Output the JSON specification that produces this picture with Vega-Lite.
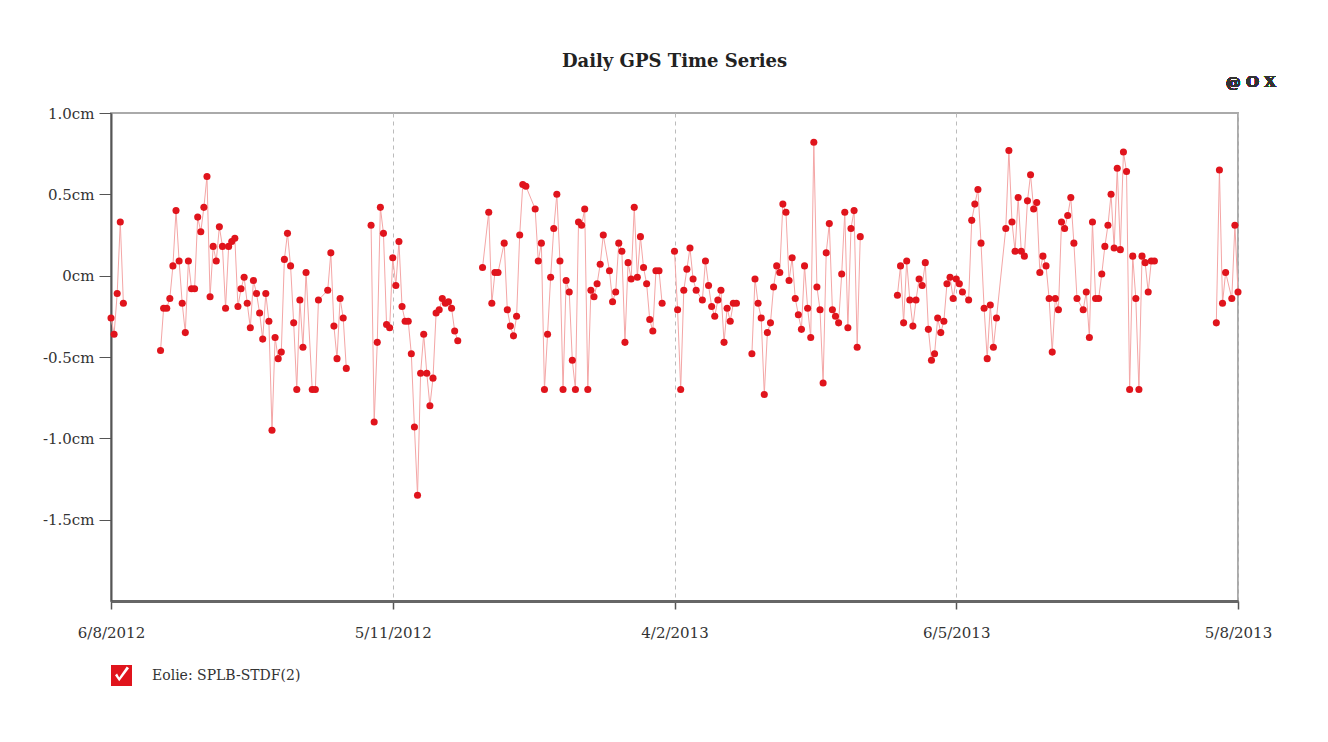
{
"$schema": "https://vega.github.io/schema/vega-lite/v6.json",
"width": 1127, "height": 488,
"autosize": "none",
"padding": {"left": 111, "top": 113, "right": 90, "bottom": 141},
"background": "white",
"config": {"font": "DejaVu Serif", "view": {"stroke": "#aaa", "strokeWidth": 2}},
"title": {"text": "Daily GPS Time Series", "font": "DejaVu Serif", "fontSize": 18, "fontWeight": "bold", "color": "#222", "anchor": "middle", "frame": "group", "offset": 4},
"data": {"values": [
{"d":"2012-08-06","v":-0.26,"g":1},{"d":"2012-08-07","v":-0.36,"g":1},{"d":"2012-08-08","v":-0.11,"g":1},{"d":"2012-08-09","v":0.33,"g":1},{"d":"2012-08-10","v":-0.17,"g":1},
{"d":"2012-08-22","v":-0.46,"g":2},{"d":"2012-08-23","v":-0.2,"g":2},{"d":"2012-08-24","v":-0.2,"g":2},{"d":"2012-08-25","v":-0.14,"g":2},{"d":"2012-08-26","v":0.06,"g":2},{"d":"2012-08-27","v":0.4,"g":2},{"d":"2012-08-28","v":0.09,"g":2},{"d":"2012-08-29","v":-0.17,"g":2},{"d":"2012-08-30","v":-0.35,"g":2},{"d":"2012-08-31","v":0.09,"g":2},
{"d":"2012-09-01","v":-0.08,"g":2},{"d":"2012-09-02","v":-0.08,"g":2},{"d":"2012-09-03","v":0.36,"g":2},{"d":"2012-09-04","v":0.27,"g":2},{"d":"2012-09-05","v":0.42,"g":2},{"d":"2012-09-06","v":0.61,"g":2},{"d":"2012-09-07","v":-0.13,"g":2},{"d":"2012-09-08","v":0.18,"g":2},{"d":"2012-09-09","v":0.09,"g":2},{"d":"2012-09-10","v":0.3,"g":2},{"d":"2012-09-11","v":0.18,"g":2},{"d":"2012-09-12","v":-0.2,"g":2},{"d":"2012-09-13","v":0.18,"g":2},{"d":"2012-09-14","v":0.21,"g":2},{"d":"2012-09-15","v":0.23,"g":2},{"d":"2012-09-16","v":-0.19,"g":2},{"d":"2012-09-17","v":-0.08,"g":2},{"d":"2012-09-18","v":-0.01,"g":2},{"d":"2012-09-19","v":-0.17,"g":2},{"d":"2012-09-20","v":-0.32,"g":2},{"d":"2012-09-21","v":-0.03,"g":2},{"d":"2012-09-22","v":-0.11,"g":2},{"d":"2012-09-23","v":-0.23,"g":2},{"d":"2012-09-24","v":-0.39,"g":2},{"d":"2012-09-25","v":-0.11,"g":2},{"d":"2012-09-26","v":-0.28,"g":2},{"d":"2012-09-27","v":-0.95,"g":2},{"d":"2012-09-28","v":-0.38,"g":2},{"d":"2012-09-29","v":-0.51,"g":2},{"d":"2012-09-30","v":-0.47,"g":2},
{"d":"2012-10-01","v":0.1,"g":2},{"d":"2012-10-02","v":0.26,"g":2},{"d":"2012-10-03","v":0.06,"g":2},{"d":"2012-10-04","v":-0.29,"g":2},{"d":"2012-10-05","v":-0.7,"g":2},{"d":"2012-10-06","v":-0.15,"g":2},{"d":"2012-10-07","v":-0.44,"g":2},{"d":"2012-10-08","v":0.02,"g":2},{"d":"2012-10-10","v":-0.7,"g":2},{"d":"2012-10-11","v":-0.7,"g":2},{"d":"2012-10-12","v":-0.15,"g":2},{"d":"2012-10-15","v":-0.09,"g":2},{"d":"2012-10-16","v":0.14,"g":2},{"d":"2012-10-17","v":-0.31,"g":2},{"d":"2012-10-18","v":-0.51,"g":2},{"d":"2012-10-19","v":-0.14,"g":2},{"d":"2012-10-20","v":-0.26,"g":2},{"d":"2012-10-21","v":-0.57,"g":2},
{"d":"2012-10-29","v":0.31,"g":3},{"d":"2012-10-30","v":-0.9,"g":3},{"d":"2012-10-31","v":-0.41,"g":3},{"d":"2012-11-01","v":0.42,"g":3},{"d":"2012-11-02","v":0.26,"g":3},{"d":"2012-11-03","v":-0.3,"g":3},{"d":"2012-11-04","v":-0.32,"g":3},{"d":"2012-11-05","v":0.11,"g":3},{"d":"2012-11-06","v":-0.06,"g":3},{"d":"2012-11-07","v":0.21,"g":3},{"d":"2012-11-08","v":-0.19,"g":3},{"d":"2012-11-09","v":-0.28,"g":3},{"d":"2012-11-10","v":-0.28,"g":3},{"d":"2012-11-11","v":-0.48,"g":3},{"d":"2012-11-12","v":-0.93,"g":3},{"d":"2012-11-13","v":-1.35,"g":3},{"d":"2012-11-14","v":-0.6,"g":3},{"d":"2012-11-15","v":-0.36,"g":3},{"d":"2012-11-16","v":-0.6,"g":3},{"d":"2012-11-17","v":-0.8,"g":3},{"d":"2012-11-18","v":-0.63,"g":3},{"d":"2012-11-19","v":-0.23,"g":3},{"d":"2012-11-20","v":-0.21,"g":3},{"d":"2012-11-21","v":-0.14,"g":3},{"d":"2012-11-22","v":-0.17,"g":3},{"d":"2012-11-23","v":-0.16,"g":3},{"d":"2012-11-24","v":-0.2,"g":3},{"d":"2012-11-25","v":-0.34,"g":3},{"d":"2012-11-26","v":-0.4,"g":3},
{"d":"2012-12-04","v":0.05,"g":4},{"d":"2012-12-06","v":0.39,"g":4},{"d":"2012-12-07","v":-0.17,"g":4},{"d":"2012-12-08","v":0.02,"g":4},{"d":"2012-12-09","v":0.02,"g":4},{"d":"2012-12-11","v":0.2,"g":4},{"d":"2012-12-12","v":-0.21,"g":4},{"d":"2012-12-13","v":-0.31,"g":4},{"d":"2012-12-14","v":-0.37,"g":4},{"d":"2012-12-15","v":-0.25,"g":4},{"d":"2012-12-16","v":0.25,"g":4},{"d":"2012-12-17","v":0.56,"g":4},{"d":"2012-12-18","v":0.55,"g":4},{"d":"2012-12-21","v":0.41,"g":4},{"d":"2012-12-22","v":0.09,"g":4},{"d":"2012-12-23","v":0.2,"g":4},{"d":"2012-12-24","v":-0.7,"g":4},{"d":"2012-12-25","v":-0.36,"g":4},{"d":"2012-12-26","v":-0.01,"g":4},{"d":"2012-12-27","v":0.29,"g":4},{"d":"2012-12-28","v":0.5,"g":4},{"d":"2012-12-29","v":0.09,"g":4},{"d":"2012-12-30","v":-0.7,"g":4},{"d":"2012-12-31","v":-0.03,"g":4},
{"d":"2013-01-01","v":-0.1,"g":4},{"d":"2013-01-02","v":-0.52,"g":4},{"d":"2013-01-03","v":-0.7,"g":4},{"d":"2013-01-04","v":0.33,"g":4},{"d":"2013-01-05","v":0.31,"g":4},{"d":"2013-01-06","v":0.41,"g":4},{"d":"2013-01-07","v":-0.7,"g":4},{"d":"2013-01-08","v":-0.09,"g":4},{"d":"2013-01-09","v":-0.13,"g":4},{"d":"2013-01-10","v":-0.05,"g":4},{"d":"2013-01-11","v":0.07,"g":4},{"d":"2013-01-12","v":0.25,"g":4},{"d":"2013-01-14","v":0.03,"g":4},{"d":"2013-01-15","v":-0.16,"g":4},{"d":"2013-01-16","v":-0.1,"g":4},{"d":"2013-01-17","v":0.2,"g":4},{"d":"2013-01-18","v":0.15,"g":4},{"d":"2013-01-19","v":-0.41,"g":4},{"d":"2013-01-20","v":0.08,"g":4},{"d":"2013-01-21","v":-0.02,"g":4},{"d":"2013-01-22","v":0.42,"g":4},{"d":"2013-01-23","v":-0.01,"g":4},{"d":"2013-01-24","v":0.24,"g":4},{"d":"2013-01-25","v":0.05,"g":4},{"d":"2013-01-26","v":-0.05,"g":4},{"d":"2013-01-27","v":-0.27,"g":4},{"d":"2013-01-28","v":-0.34,"g":4},{"d":"2013-01-29","v":0.03,"g":4},{"d":"2013-01-30","v":0.03,"g":4},{"d":"2013-01-31","v":-0.17,"g":4},
{"d":"2013-02-04","v":0.15,"g":5},{"d":"2013-02-05","v":-0.21,"g":5},{"d":"2013-02-06","v":-0.7,"g":5},{"d":"2013-02-07","v":-0.09,"g":5},{"d":"2013-02-08","v":0.04,"g":5},{"d":"2013-02-09","v":0.17,"g":5},{"d":"2013-02-10","v":-0.02,"g":5},{"d":"2013-02-11","v":-0.09,"g":5},{"d":"2013-02-13","v":-0.15,"g":5},{"d":"2013-02-14","v":0.09,"g":5},{"d":"2013-02-15","v":-0.06,"g":5},{"d":"2013-02-16","v":-0.19,"g":5},{"d":"2013-02-17","v":-0.25,"g":5},{"d":"2013-02-18","v":-0.15,"g":5},{"d":"2013-02-19","v":-0.09,"g":5},{"d":"2013-02-20","v":-0.41,"g":5},{"d":"2013-02-21","v":-0.2,"g":5},{"d":"2013-02-22","v":-0.28,"g":5},{"d":"2013-02-23","v":-0.17,"g":5},{"d":"2013-02-24","v":-0.17,"g":5},
{"d":"2013-03-01","v":-0.48,"g":6},{"d":"2013-03-02","v":-0.02,"g":6},{"d":"2013-03-03","v":-0.17,"g":6},{"d":"2013-03-04","v":-0.26,"g":6},{"d":"2013-03-05","v":-0.73,"g":6},{"d":"2013-03-06","v":-0.35,"g":6},{"d":"2013-03-07","v":-0.29,"g":6},{"d":"2013-03-08","v":-0.07,"g":6},{"d":"2013-03-09","v":0.06,"g":6},{"d":"2013-03-10","v":0.02,"g":6},{"d":"2013-03-11","v":0.44,"g":6},{"d":"2013-03-12","v":0.39,"g":6},{"d":"2013-03-13","v":-0.03,"g":6},{"d":"2013-03-14","v":0.11,"g":6},{"d":"2013-03-15","v":-0.14,"g":6},{"d":"2013-03-16","v":-0.24,"g":6},{"d":"2013-03-17","v":-0.33,"g":6},{"d":"2013-03-18","v":0.06,"g":6},{"d":"2013-03-19","v":-0.2,"g":6},{"d":"2013-03-20","v":-0.38,"g":6},{"d":"2013-03-21","v":0.82,"g":6},{"d":"2013-03-22","v":-0.07,"g":6},{"d":"2013-03-23","v":-0.21,"g":6},{"d":"2013-03-24","v":-0.66,"g":6},{"d":"2013-03-25","v":0.14,"g":6},{"d":"2013-03-26","v":0.32,"g":6},{"d":"2013-03-27","v":-0.21,"g":6},{"d":"2013-03-28","v":-0.25,"g":6},{"d":"2013-03-29","v":-0.29,"g":6},{"d":"2013-03-30","v":0.01,"g":6},{"d":"2013-03-31","v":0.39,"g":6},{"d":"2013-04-01","v":-0.32,"g":6},{"d":"2013-04-02","v":0.29,"g":6},{"d":"2013-04-03","v":0.4,"g":6},{"d":"2013-04-04","v":-0.44,"g":6},{"d":"2013-04-05","v":0.24,"g":6},
{"d":"2013-04-17","v":-0.12,"g":7},{"d":"2013-04-18","v":0.06,"g":7},{"d":"2013-04-19","v":-0.29,"g":7},{"d":"2013-04-20","v":0.09,"g":7},{"d":"2013-04-21","v":-0.15,"g":7},{"d":"2013-04-22","v":-0.31,"g":7},{"d":"2013-04-23","v":-0.15,"g":7},{"d":"2013-04-24","v":-0.02,"g":7},{"d":"2013-04-25","v":-0.06,"g":7},{"d":"2013-04-26","v":0.08,"g":7},{"d":"2013-04-27","v":-0.33,"g":7},{"d":"2013-04-28","v":-0.52,"g":7},{"d":"2013-04-29","v":-0.48,"g":7},{"d":"2013-04-30","v":-0.26,"g":7},{"d":"2013-05-01","v":-0.35,"g":7},{"d":"2013-05-02","v":-0.28,"g":7},{"d":"2013-05-03","v":-0.05,"g":7},{"d":"2013-05-04","v":-0.01,"g":7},{"d":"2013-05-05","v":-0.14,"g":7},{"d":"2013-05-06","v":-0.02,"g":7},{"d":"2013-05-07","v":-0.05,"g":7},{"d":"2013-05-08","v":-0.1,"g":7},{"d":"2013-05-10","v":-0.15,"g":7},{"d":"2013-05-11","v":0.34,"g":7},{"d":"2013-05-12","v":0.44,"g":7},{"d":"2013-05-13","v":0.53,"g":7},{"d":"2013-05-14","v":0.2,"g":7},{"d":"2013-05-15","v":-0.2,"g":7},{"d":"2013-05-16","v":-0.51,"g":7},{"d":"2013-05-17","v":-0.18,"g":7},{"d":"2013-05-18","v":-0.44,"g":7},{"d":"2013-05-19","v":-0.26,"g":7},{"d":"2013-05-22","v":0.29,"g":7},{"d":"2013-05-23","v":0.77,"g":7},{"d":"2013-05-24","v":0.33,"g":7},{"d":"2013-05-25","v":0.15,"g":7},{"d":"2013-05-26","v":0.48,"g":7},{"d":"2013-05-27","v":0.15,"g":7},{"d":"2013-05-28","v":0.12,"g":7},{"d":"2013-05-29","v":0.46,"g":7},{"d":"2013-05-30","v":0.62,"g":7},{"d":"2013-05-31","v":0.41,"g":7},
{"d":"2013-06-01","v":0.45,"g":7},{"d":"2013-06-02","v":0.02,"g":7},{"d":"2013-06-03","v":0.12,"g":7},{"d":"2013-06-04","v":0.06,"g":7},{"d":"2013-06-05","v":-0.14,"g":7},{"d":"2013-06-06","v":-0.47,"g":7},{"d":"2013-06-07","v":-0.14,"g":7},{"d":"2013-06-08","v":-0.21,"g":7},{"d":"2013-06-09","v":0.33,"g":7},{"d":"2013-06-10","v":0.29,"g":7},{"d":"2013-06-11","v":0.37,"g":7},{"d":"2013-06-12","v":0.48,"g":7},{"d":"2013-06-13","v":0.2,"g":7},{"d":"2013-06-14","v":-0.14,"g":7},{"d":"2013-06-16","v":-0.21,"g":7},{"d":"2013-06-17","v":-0.1,"g":7},{"d":"2013-06-18","v":-0.38,"g":7},{"d":"2013-06-19","v":0.33,"g":7},{"d":"2013-06-20","v":-0.14,"g":7},{"d":"2013-06-21","v":-0.14,"g":7},{"d":"2013-06-22","v":0.01,"g":7},{"d":"2013-06-23","v":0.18,"g":7},{"d":"2013-06-24","v":0.31,"g":7},{"d":"2013-06-25","v":0.5,"g":7},{"d":"2013-06-26","v":0.17,"g":7},{"d":"2013-06-27","v":0.66,"g":7},{"d":"2013-06-28","v":0.16,"g":7},{"d":"2013-06-29","v":0.76,"g":7},{"d":"2013-06-30","v":0.64,"g":7},
{"d":"2013-07-01","v":-0.7,"g":7},{"d":"2013-07-02","v":0.12,"g":7},{"d":"2013-07-03","v":-0.14,"g":7},{"d":"2013-07-04","v":-0.7,"g":7},{"d":"2013-07-05","v":0.12,"g":7},{"d":"2013-07-06","v":0.08,"g":7},{"d":"2013-07-07","v":-0.1,"g":7},{"d":"2013-07-08","v":0.09,"g":7},{"d":"2013-07-09","v":0.09,"g":7},
{"d":"2013-07-29","v":-0.29,"g":8},{"d":"2013-07-30","v":0.65,"g":8},{"d":"2013-07-31","v":-0.17,"g":8},{"d":"2013-08-01","v":0.02,"g":8},{"d":"2013-08-03","v":-0.14,"g":8},{"d":"2013-08-04","v":0.31,"g":8},{"d":"2013-08-05","v":-0.1,"g":8}
]},
"encoding": {
"x": {"field": "d", "type": "temporal",
 "scale": {"type": "utc", "nice": false, "domain": [{"year": 2012, "month": 8, "date": 6, "utc": true}, {"year": 2013, "month": 8, "date": 5, "utc": true}]},
 "axis": {"title": null, "values": [{"year": 2012, "month": 8, "date": 6, "utc": true}, {"year": 2012, "month": 11, "date": 5, "utc": true}, {"year": 2013, "month": 2, "date": 4, "utc": true}, {"year": 2013, "month": 5, "date": 6, "utc": true}, {"year": 2013, "month": 8, "date": 5, "utc": true}],
  "format": "%-d/%-m/%Y", "grid": true, "gridDash": [4, 4], "gridColor": "#bbb", "gridWidth": 1,
  "domainColor": "#666", "domainWidth": 3, "tickColor": "#555", "tickSize": 8, "tickWidth": 1.5,
  "labelFont": "DejaVu Serif", "labelFontSize": 15, "labelColor": "#333", "labelPadding": 16, "labelFlush": false, "labelOverlap": false}},
"y": {"field": "v", "type": "quantitative",
 "scale": {"domain": [-2, 1], "nice": false, "zero": false},
 "axis": {"title": null, "values": [-1.5, -1, -0.5, 0, 0.5, 1], "labelExpr": "datum.value == 0 ? '0cm' : replace(format(datum.value, '.1f'), '\u2212', '-') + 'cm'",
  "grid": false, "domainColor": "#555", "domainWidth": 2, "tickColor": "#555", "tickSize": 12,
  "labelFont": "DejaVu Serif", "labelFontSize": 15, "labelColor": "#333", "labelPadding": 5}}
},
"layer": [
{"mark": {"type": "line", "color": "#f4a6a6", "strokeWidth": 1},
 "encoding": {"detail": {"field": "g"}}},
{"mark": {"type": "point", "filled": true, "size": 50, "opacity": 1},
 "encoding": {"color": {"datum": "Eolie: SPLB-STDF(2)", "scale": {"range": ["#e0141c"]},
  "legend": {"title": null, "orient": "none", "legendX": 0, "legendY": 552,
   "symbolType": "M-1,-1H1V1H-1Z M-0.62,-0.02L-0.22,0.55L0.72,-0.68L0.5,-0.86L-0.22,0.18L-0.42,-0.2Z",
   "symbolSize": 441, "symbolStrokeWidth": 0, "symbolOpacity": 1,
   "labelFont": "DejaVu Serif", "labelFontSize": 14, "labelColor": "#333", "labelOffset": 20}}}},
{"mark": {"type": "text", "text": "@ O X", "align": "right", "baseline": "alphabetic", "dx": 38, "dy": -26, "font": "DejaVu Serif", "fontSize": 15, "fontWeight": "bold", "color": "#333"},
 "encoding": {"x": {"datum": {"year": 2013, "month": 8, "date": 5, "utc": true}, "type": "temporal"}, "y": {"datum": 1, "type": "quantitative"}}}
]
}
